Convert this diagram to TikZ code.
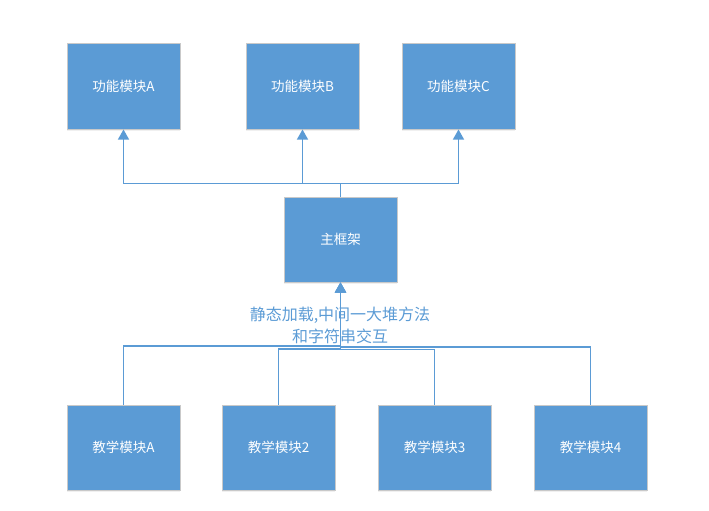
\documentclass[tikz,border=0pt]{standalone}
\usepackage{fontspec}
\newfontfamily\cjk{Noto Sans CJK SC}
\usetikzlibrary{arrows.meta}
\usetikzlibrary{positioning}
\usetikzlibrary{shadows}
\usetikzlibrary{calc}

\definecolor{boxblue}{HTML}{5B9BD5}
\definecolor{boxedge}{HTML}{C9C9C9}

\begin{document}
\begin{tikzpicture}[
      x = 1pt, y = -1pt,
      >={Triangle[width=11pt, length=10pt]},
      module/.style = {
        rectangle, draw = boxedge, fill = boxblue, line width = 1pt,
        minimum width = 113pt, minimum height = 85pt,
        text = white, font = \cjk\fontsize{13.5}{15}\selectfont,
        drop shadow = {opacity = 0.12, shadow xshift = 0pt, shadow yshift = -2pt}
      },
      link/.style = { draw = boxblue, line width = 1.2pt },
      note/.style = {
        text = boxblue, align = center,
        font = \cjk\fontsize{16}{22}\selectfont
      },
    ]
    \useasboundingbox (0,0) rectangle (709,511);

    % function modules on top
    \foreach \x/\t [count=\i] in {123.5/A, 302.5/B, 458.5/C} {
      \node[module] (F\i) at (\x, 86.5) {功能模块\t};
    }

    \node[module] (main) at (340.5, 239.5) {主框架};

    % teaching modules at the bottom
    \foreach \x/\t [count=\i] in {123.5/A, 278.5/2, 434.5/3, 590.5/4} {
      \node[module] (T\i) at (\x, 447.5) {教学模块\t};
    }

    \coordinate (upbus) at (340.5, 183.5);
    \foreach \i in {1,2,3} {
      \draw[link, ->] (main.north) -- (upbus) -| (F\i.south);
    }

    \foreach \i/\y in {1/346, 2/349, 3/349.5, 4/347} {
      \draw[link, ->] (T\i.north) |- (340.5, \y) -- (main.south);
    }

    \node[note] (info) at (340, 325) {静态加载,中间一大堆方法\\和字符串交互};
  \end{tikzpicture}
\end{document}
